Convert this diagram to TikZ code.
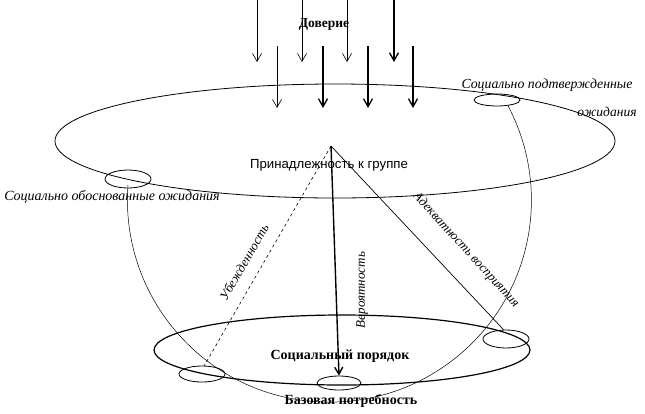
\documentclass[tikz,border=0pt]{standalone}
\usepackage{fontspec}
\setmainfont{Liberation Serif}
\newfontfamily\arialf{Liberation Sans}
\usetikzlibrary{arrows.meta,shapes.geometric}
\begin{document}
\begin{tikzpicture}[x=1pt,y=-1pt,
  ell/.style={draw,ellipse,inner sep=0pt,line width=0.8pt},
  dn/.style={-{Straight Barb[length=8pt,width=9pt]},line width=0.6pt},
  dnk/.style={-{Straight Barb[length=8pt,width=9pt]},line width=1.3pt},
  lab/.style={font=\itshape\fontsize{13}{13}\selectfont,inner sep=0pt},
  blab/.style={font=\bfseries\fontsize{14}{14}\selectfont,inner sep=0pt}]
\useasboundingbox (0,0) rectangle (645,413);
% large ellipse
\node[ell,minimum width=560pt,minimum height=114pt] (big) at (335,141) {};
% social order ellipse
\node[ell,line width=1.2pt,minimum width=376pt,minimum height=70pt] (small) at (342,350) {};
% small expectation ellipses
\node[ell,minimum width=46pt,minimum height=12pt] (tr) at (497,100) {};
\node[ell,minimum width=46pt,minimum height=18pt] (lo) at (128,179) {};
\node[ell,minimum width=46pt,minimum height=16pt] (bl) at (202,374) {};
\node[ell,minimum width=44pt,minimum height=14pt] (bc) at (339,383) {};
\node[ell,minimum width=46pt,minimum height=18pt] (br) at (506,339) {};
% big circle arc
\draw[line width=0.5pt] (128,185) arc[start angle=175.7,end angle=387.8,radius=202pt];
% arrows from the top
\coordinate (a1) at (257,0);  \coordinate (b1) at (257,62);
\coordinate (a2) at (302,0);  \coordinate (b2) at (302,62);
\coordinate (a3) at (347,0);  \coordinate (b3) at (347,62);
\coordinate (a4) at (394,0);  \coordinate (b4) at (394,62);
\coordinate (c1) at (277,46); \coordinate (d1) at (277,108);
\coordinate (c2) at (323,46); \coordinate (d2) at (323,108);
\coordinate (c3) at (368,46); \coordinate (d3) at (368,108);
\coordinate (c4) at (413,46); \coordinate (d4) at (413,108);
\draw[dn] (a1) -- (b1);
\draw[dn] (a2) -- (b2);
\draw[dn] (a3) -- (b3);
\draw[dnk] (a4) -- (b4);
\draw[dn] (c1) -- (d1);
\draw[dnk] (c2) -- (d2);
\draw[dnk] (c3) -- (d3);
\draw[dnk] (c4) -- (d4);
% triangle
\coordinate (apex) at (331,146);
\draw[dashed,line width=0.6pt] (apex) -- (bl.75);
\draw[line width=0.7pt] (apex) -- (br.105);
\draw[line width=1.4pt,-{Straight Barb[length=7pt,width=8pt]}] (apex) -- (bc.north);
% texts
\node[font=\bfseries\fontsize{13.5}{13.5}\selectfont,inner sep=0pt] (trust) at (324,25) {Доверие};
\node[lab,font=\itshape\fontsize{13.8}{13.8}\selectfont] (t1) at (547,85) {Социально подтвержденные};
\node[lab,font=\itshape\fontsize{13.5}{13.5}\selectfont] (t2) at (607,112) {ожидания};
\node[lab,font=\itshape\fontsize{14}{14}\selectfont] (t3) at (112,197) {Социально обоснованные ожидания};
\node[font=\arialf\fontsize{13.2}{13.2}\selectfont,inner sep=0pt] (grp) at (329,165) {Принадлежность к группе};
\node[blab] (ord) at (340,356) {Социальный порядок};
\node[blab] (need) at (351,401) {Базовая потребность};
\node[lab,rotate=60] (conv) at (244,262) {Убежденность};
\node[lab,rotate=90] (prob) at (362,290) {Вероятность};
\node[lab,rotate=-47.5] (adeq) at (466,250) {Адекватность восприятия};
\end{tikzpicture}
\end{document}
